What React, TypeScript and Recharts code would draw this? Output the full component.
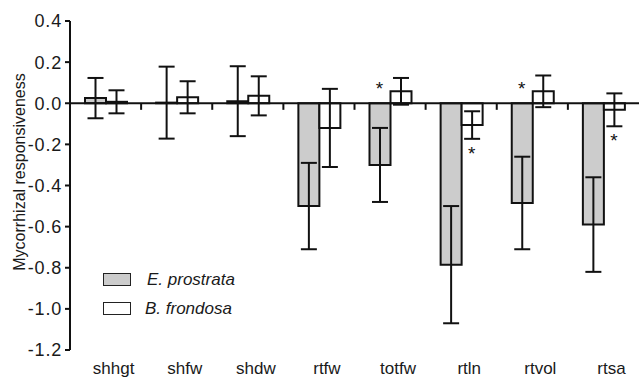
import { BarChart, Bar, XAxis, YAxis, ErrorBar, ReferenceLine, ReferenceDot, Legend } from 'recharts'

const categories = ['shhgt', 'shfw', 'shdw', 'rtfw', 'totfw', 'rtln', 'rtvol', 'rtsa']
const prostrata = [0.025, 0.003, 0.01, -0.5, -0.3, -0.785, -0.485, -0.59]
const prostrataErr = [0.098, 0.175, 0.17, 0.21, 0.18, 0.285, 0.225, 0.23]
const frondosa = [0.007, 0.029, 0.036, -0.12, 0.058, -0.106, 0.058, -0.032]
const frondosaErr = [0.056, 0.078, 0.095, 0.19, 0.065, 0.067, 0.077, 0.08]
const yTicks = [0.4, 0.2, 0, -0.2, -0.4, -0.6, -0.8, -1.0, -1.2]
const seriesNames = ['E. prostrata', 'B. frondosa']
// significance stars: category, series index (0 = E. prostrata, 1 = B. frondosa), y value
const stars = [
  { cat: 'totfw', series: 0, y: 0.095 },
  { cat: 'rtln', series: 1, y: -0.224 },
  { cat: 'rtvol', series: 0, y: 0.095 },
  { cat: 'rtsa', series: 1, y: -0.16 },
]

const W = 639
const H = 379
const AXIS_W = 70
const BAR = 21
const FONT = '"Liberation Sans", Arial, sans-serif'
const INK = '#111'
const GRAY = '#cccccc'

const data = categories.map((name, i) => ({
  name,
  idx: i + 0.5,
  ep: prostrata[i],
  epErr: prostrataErr[i],
  bf: frondosa[i],
  bfErr: frondosaErr[i],
}))

const catWidth = (W - AXIS_W) / categories.length
const barOffset = BAR / 2 / catWidth
const boundaries = categories.slice(1).map((_, i) => i + 1)

function CatTick(props: any) {
  const { x, payload } = props
  return (
    <text x={x + 8} y={374} textAnchor="middle" fontSize={17} fill="#1a1a1a" fontFamily={FONT}>
      {payload.value}
    </text>
  )
}

function YLabel() {
  return (
    <text
      x={19}
      y={172}
      transform="rotate(-90, 19, 172)"
      textAnchor="middle"
      dominantBaseline="central"
      fontSize={16}
      fill="#1a1a1a"
      fontFamily={FONT}
    >
      Mycorrhizal responsiveness
    </text>
  )
}

function Star(props: any) {
  return (
    <text x={props.cx} y={props.cy + 11} textAnchor="middle" fontSize={19} fill={INK} fontFamily={FONT}>
      *
    </text>
  )
}

function LegendBox() {
  const fills = [GRAY, '#fff']
  return (
    <div style={{ fontFamily: FONT, fontSize: 17, fontStyle: 'italic', color: '#1a1a1a' }}>
      {seriesNames.map((n, i) => (
        <div key={n} style={{ display: 'flex', alignItems: 'center', height: 29 }}>
          <span
            style={{
              display: 'inline-block',
              width: 26,
              height: 11,
              background: fills[i],
              border: '1.5px solid #222',
              marginRight: i === 0 ? 16 : 14,
            }}
          />
          <span>{n}</span>
        </div>
      ))}
    </div>
  )
}

export default function App() {
  return (
    <div style={{ position: 'absolute', left: 0, top: 0, width: W, height: H, background: '#fff' }}>
      <BarChart width={W} height={H} data={data} margin={{ top: 21, right: 0, bottom: 0, left: 0 }} barGap={0}>
        <XAxis
          xAxisId="cat"
          dataKey="name"
          axisLine={false}
          tickLine={false}
          height={29}
          interval={0}
          tick={<CatTick />}
        />
        <XAxis xAxisId="num" dataKey="idx" type="number" domain={[0, categories.length]} allowDataOverflow hide />
        <YAxis
          width={AXIS_W}
          domain={[-1.2, 0.4]}
          ticks={yTicks}
          interval={0}
          tickFormatter={(v: number) => v.toFixed(1)}
          axisLine={{ stroke: INK, strokeWidth: 2 }}
          tickLine={{ stroke: INK, strokeWidth: 2 }}
          tickSize={5}
          tickMargin={3}
          tick={{ fontSize: 18, fill: '#1a1a1a', fontFamily: FONT, letterSpacing: 0.8 }}
          label={<YLabel />}
        />
        <Bar xAxisId="cat" dataKey="ep" fill={GRAY} stroke={INK} strokeWidth={2} barSize={BAR} isAnimationActive={false}>
          <ErrorBar dataKey="epErr" width={8} stroke={INK} strokeWidth={2} />
        </Bar>
        <Bar xAxisId="cat" dataKey="bf" fill="#fff" stroke={INK} strokeWidth={2} barSize={BAR} isAnimationActive={false}>
          <ErrorBar dataKey="bfErr" width={8} stroke={INK} strokeWidth={2} />
        </Bar>
        <ReferenceLine xAxisId="cat" y={0} stroke={INK} strokeWidth={2} />
        {boundaries.map((b) => (
          <ReferenceLine
            key={b}
            xAxisId="num"
            segment={[
              { x: b, y: 0 },
              { x: b, y: -0.032 },
            ]}
            stroke={INK}
            strokeWidth={2}
          />
        ))}
        {stars.map((s) => {
          const i = categories.indexOf(s.cat)
          const x = i + 0.5 + (s.series === 0 ? -barOffset : barOffset)
          return <ReferenceDot key={s.cat} xAxisId="num" x={x} y={s.y} r={0} shape={<Star />} />
        })}
        <Legend
          layout="vertical"
          align="center"
          verticalAlign="middle"
          wrapperStyle={{ left: 103, top: 265, width: 'auto' }}
          content={<LegendBox />}
        />
      </BarChart>
    </div>
  )
}
